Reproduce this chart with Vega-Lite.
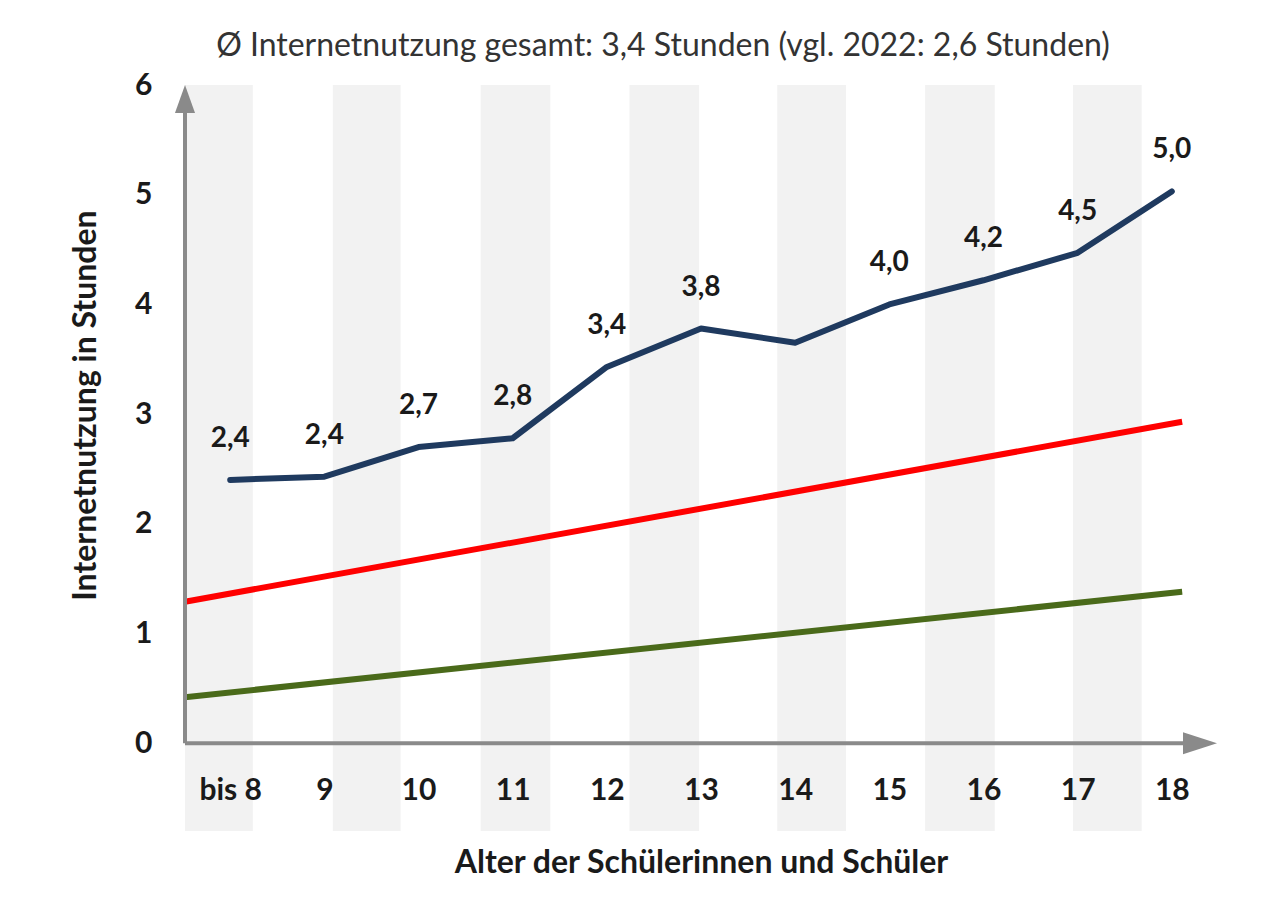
{
  "$schema": "https://vega.github.io/schema/vega-lite/v6.json",
  "autosize": {"type": "none"},
  "width": 1032,
  "height": 746,
  "padding": {"left": 185, "top": 85, "right": 61, "bottom": 71},
  "background": "white",
  "config": {"view": {"stroke": null}, "font": "Lato"},
  "title": {
    "text": "Ø Internetnutzung gesamt: 3,4 Stunden (vgl. 2022: 2,6 Stunden)",
    "fontSize": 32,
    "fontWeight": "normal",
    "color": "#333333",
    "font": "Lato",
    "anchor": "middle",
    "dx": -38,
    "offset": 7
  },
  "datasets": {
    "usage": [
      {"age": "bis 8", "pos": 0, "hours": 2.4, "label": "2,4"},
      {"age": "9", "pos": 1, "hours": 2.43, "label": "2,4"},
      {"age": "10", "pos": 2, "hours": 2.7, "label": "2,7"},
      {"age": "11", "pos": 3, "hours": 2.78, "label": "2,8"},
      {"age": "12", "pos": 4, "hours": 3.43, "label": "3,4"},
      {"age": "13", "pos": 5, "hours": 3.78, "label": "3,8"},
      {"age": "14", "pos": 6, "hours": 3.65, "label": null},
      {"age": "15", "pos": 7, "hours": 4.0, "label": "4,0"},
      {"age": "16", "pos": 8, "hours": 4.22, "label": "4,2"},
      {"age": "17", "pos": 9, "hours": 4.47, "label": "4,5"},
      {"age": "18", "pos": 10, "hours": 5.03, "label": "5,0"}
    ],
    "stripes": [
      {"pos": -0.48, "pos2": 0.24, "hours": 6, "hours2": -0.8},
      {"pos": 1.09, "pos2": 1.81, "hours": 6, "hours2": -0.8},
      {"pos": 2.66, "pos2": 3.4, "hours": 6, "hours2": -0.8},
      {"pos": 4.24, "pos2": 4.98, "hours": 6, "hours2": -0.8},
      {"pos": 5.81, "pos2": 6.54, "hours": 6, "hours2": -0.8},
      {"pos": 7.38, "pos2": 8.12, "hours": 6, "hours2": -0.8},
      {"pos": 8.95, "pos2": 9.68, "hours": 6, "hours2": -0.8}
    ],
    "refs": [
      {"series": "rot", "pos": -0.48, "hours": 1.29},
      {"series": "rot", "pos": 10.11, "hours": 2.93},
      {"series": "grün", "pos": -0.48, "hours": 0.42},
      {"series": "grün", "pos": 10.11, "hours": 1.38}
    ],
    "frame": [
      {"part": "y", "pos": -0.48, "pos2": -0.48, "hours": 0, "hours2": 5.75},
      {"part": "x", "pos": -0.48, "pos2": 10.12, "hours": 0, "hours2": 0}
    ],
    "arrows": [
      {"dir": "up", "pos": -0.48, "hours": 6},
      {"dir": "right", "pos": 10.48, "hours": 0}
    ]
  },
  "encoding": {
    "x": {
      "field": "pos",
      "type": "quantitative",
      "scale": {"domain": [-0.48, 10.48], "nice": false, "zero": false},
      "axis": {
        "values": [0, 1, 2, 3, 4, 5, 6, 7, 8, 9, 10],
        "labelExpr": "datum.value == 0 ? 'bis 8' : format(datum.value + 8, 'd')",
        "domain": false,
        "ticks": false,
        "grid": false,
        "zindex": 1,
        "offset": -60,
        "labelPadding": 4,
        "labelFont": "Lato",
        "labelFontSize": 30,
        "labelFontWeight": "bold",
        "labelColor": "#1a1a1a",
        "labelFlush": false,
        "labelOverlap": false,
        "title": "Alter der Schülerinnen und Schüler",
        "titleFont": "Lato",
        "titleFontSize": 32,
        "titleFontWeight": "bold",
        "titleColor": "#1a1a1a",
        "titlePadding": 42
      }
    },
    "y": {
      "field": "hours",
      "type": "quantitative",
      "scale": {"domain": [-0.8, 6], "nice": false, "zero": false},
      "axis": {
        "values": [0, 1, 2, 3, 4, 5, 6],
        "domain": false,
        "ticks": false,
        "grid": false,
        "zindex": 1,
        "labelPadding": 33,
        "labelFont": "Lato",
        "labelFontSize": 30,
        "labelFontWeight": "bold",
        "labelColor": "#1a1a1a",
        "title": "Internetnutzung in Stunden",
        "titleFont": "Lato",
        "titleFontSize": 32,
        "titleFontWeight": "bold",
        "titleColor": "#1a1a1a",
        "titlePadding": 32,
        "titleY": 320
      }
    }
  },
  "layer": [
    {
      "data": {"name": "stripes"},
      "mark": {"type": "rect", "fill": "#f2f2f2"},
      "encoding": {
        "x2": {"field": "pos2"},
        "y2": {"field": "hours2"}
      }
    },
    {
      "data": {"name": "refs"},
      "mark": {"type": "line", "strokeWidth": 6},
      "encoding": {
        "color": {
          "field": "series",
          "type": "nominal",
          "scale": {"domain": ["rot", "grün"], "range": ["#ff0000", "#4a6a1a"]},
          "legend": null
        }
      }
    },
    {
      "data": {"name": "frame"},
      "mark": {"type": "rule", "color": "#8a8a8a", "strokeWidth": 4},
      "encoding": {
        "x2": {"field": "pos2"},
        "y2": {"field": "hours2"}
      }
    },
    {
      "data": {"name": "arrows"},
      "mark": {"type": "point", "filled": true, "opacity": 1, "color": "#8a8a8a", "size": 1156, "strokeWidth": 0},
      "encoding": {
        "shape": {
          "field": "dir",
          "type": "nominal",
          "scale": {"domain": ["up", "right"], "range": ["M0,0L0.59,1.65L-0.59,1.65Z", "M0,0L-2,-0.65L-2,0.65Z"]},
          "legend": null
        }
      }
    },
    {
      "data": {"name": "usage"},
      "mark": {"type": "line", "color": "#1f3a5f", "strokeWidth": 6, "strokeCap": "round", "strokeJoin": "round"}
    },
    {
      "data": {"name": "usage"},
      "transform": [{"filter": "datum.label != null"}],
      "mark": {"type": "text", "dy": -41, "fontSize": 28, "fontWeight": "bold", "font": "Lato", "color": "#1a1a1a", "baseline": "middle"},
      "encoding": {"text": {"field": "label"}}
    }
  ]
}
